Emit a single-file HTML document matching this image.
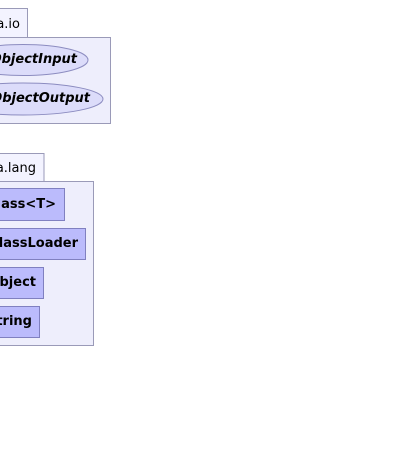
<!DOCTYPE html>
<html><head><style>
html,body{margin:0;padding:0;background:#fff;width:416px;height:472px;overflow:hidden}
svg{display:block}
text{font-family:"DejaVu Sans","Liberation Sans",sans-serif;fill:#000}
</style></head><body>
<svg width="416" height="472" viewBox="0 0 416 472">
<!-- java.io -->
<rect x="-40" y="8.5" width="67.5" height="29" fill="#f3f3ff" stroke="#9a9ab8"/>
<text x="20" y="28" font-size="13" text-anchor="end">java.io</text>
<rect x="-40" y="37.5" width="150.5" height="86" fill="#eeeefc" stroke="#9a9ab8"/>
<ellipse cx="23" cy="60" rx="65" ry="15.5" fill="#dcdcfa" stroke="#8c8cc0"/>
<text x="77" y="63" font-size="13" font-weight="bold" font-style="italic" text-anchor="end">ObjectInput</text>
<ellipse cx="23" cy="99" rx="80" ry="16" fill="#dcdcfa" stroke="#8c8cc0"/>
<text x="90" y="102" font-size="13" font-weight="bold" font-style="italic" text-anchor="end">ObjectOutput</text>
<!-- java.lang -->
<rect x="-40" y="153.5" width="84" height="28" fill="#f3f3ff" stroke="#9a9ab8"/>
<text x="36" y="172" font-size="13" text-anchor="end">java.lang</text>
<rect x="-40" y="181.5" width="133.5" height="164" fill="#eeeefc" stroke="#9a9ab8"/>
<rect x="-40" y="188.5" width="104.5" height="32" fill="#bbbbfc" stroke="#8080c0"/>
<text x="56" y="208" font-size="13" font-weight="bold" text-anchor="end">Class&lt;T&gt;</text>
<rect x="-40" y="228.5" width="125.5" height="31" fill="#bbbbfc" stroke="#8080c0"/>
<text x="78" y="247" font-size="13" font-weight="bold" text-anchor="end">ClassLoader</text>
<rect x="-40" y="267.5" width="83.5" height="31" fill="#bbbbfc" stroke="#8080c0"/>
<text x="36" y="286" font-size="13" font-weight="bold" text-anchor="end">Object</text>
<rect x="-40" y="306.5" width="79.5" height="31" fill="#bbbbfc" stroke="#8080c0"/>
<text x="32" y="325" font-size="13" font-weight="bold" text-anchor="end">String</text>
</svg>
</body></html>
